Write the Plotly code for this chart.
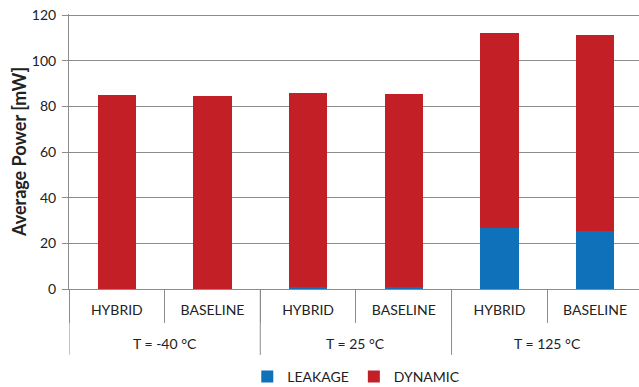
import plotly.graph_objects as go

groups = ["T = -40 °C", "T = -40 °C", "T = 25 °C", "T = 25 °C", "T = 125 °C", "T = 125 °C"]
configs = ["HYBRID", "BASELINE", "HYBRID", "BASELINE", "HYBRID", "BASELINE"]
leakage = [0.1, 0.1, 0.9, 0.9, 26.8, 25.2]
dynamic = [85.1, 84.4, 85.2, 84.6, 85.4, 86.0]
y_ticks = [0, 20, 40, 60, 80, 100, 120]

FONT = "Lato"
GRID = "#8c8c8c"
xs = list(range(len(configs)))

fig = go.Figure()
fig.add_trace(go.Bar(x=xs, y=leakage, name="LEAKAGE",
                     marker=dict(color="#0F71BA", line=dict(width=0)), width=0.4))
fig.add_trace(go.Bar(x=xs, y=dynamic, name="DYNAMIC",
                     marker=dict(color="#C22026", line=dict(width=0)), width=0.4))

# group labels and group dividers
PLOT_H = 275.3
def py(pix):  # pixels below the x axis -> paper y
    return -pix / PLOT_H

uniq = []
for i, g in enumerate(groups):
    if not uniq or uniq[-1][0] != g:
        uniq.append([g, i, i])
    else:
        uniq[-1][2] = i

shapes = []
annotations = []
for g, a, b in uniq:
    annotations.append(dict(x=(a + b) / 2, y=py(55), xref="x", yref="paper",
                            text=g, showarrow=False, yanchor="middle",
                            font=dict(size=14, family=FONT, color="#222222")))
    if a - 0.5 < 5.46:
        shapes.append(dict(type="line", xref="x", yref="paper", x0=a - 0.5, x1=a - 0.5,
                           y0=0, y1=py(66), line=dict(color=GRID, width=1)))

# the figure is 8px taller than the window so the legend fits without pushing margins
fig.update_layout(
    barmode="stack",
    width=639, height=395,
    margin=dict(l=69, r=0, t=14, b=106),
    plot_bgcolor="white", paper_bgcolor="white",
    font=dict(family=FONT, size=14, color="#222222"),
    legend=dict(orientation="h", x=0.504, xanchor="center", y=py(88), yanchor="middle",
                font=dict(size=14), itemwidth=30, traceorder="normal"),
    shapes=shapes,
    annotations=annotations,
    xaxis=dict(range=[-0.5, 5.46], tickvals=xs, ticktext=configs, ticks="",
               ticklabelstandoff=8, showline=True, linecolor=GRID, linewidth=1,
               minor=dict(tick0=0.5, dtick=1, ticks="outside", ticklen=33, tickcolor=GRID,
                          showgrid=False),
               tickfont=dict(size=14), showgrid=False, zeroline=False, automargin=False),
    yaxis=dict(range=[0, 120.5], tickvals=y_ticks, showgrid=True, gridcolor=GRID, gridwidth=1,
               showline=True, linecolor=GRID, linewidth=1,
               ticks="outside", ticklen=6, tickcolor=GRID, ticklabeloverflow="allow",
               ticklabelstandoff=3, tickfont=dict(size=14),
               title=dict(text="<b>Average Power [mW]</b>", font=dict(size=18), standoff=0),
               zeroline=False, automargin=False),
)
fig.write_html("out.html", config={"displayModeBar": False},
               post_script="document.body.style.margin='0';")
